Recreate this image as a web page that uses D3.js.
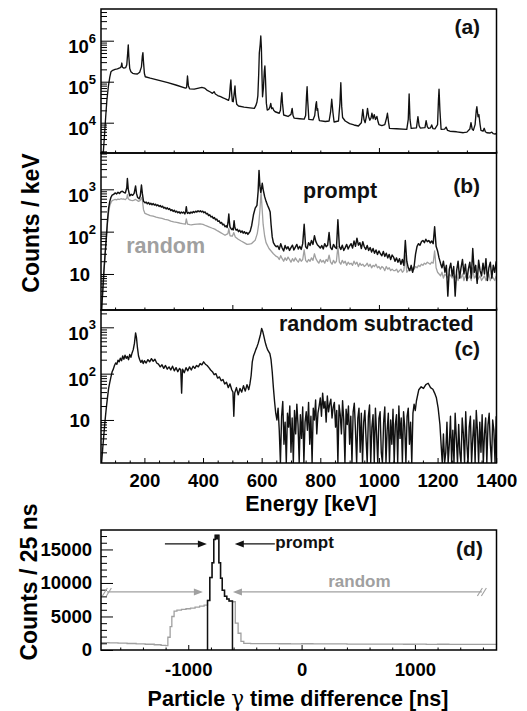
<!DOCTYPE html>
<html>
<head>
<meta charset="utf-8">
<script src="https://cdn.jsdelivr.net/npm/d3@7"></script>
<style>
body { margin: 0; background: #fff; }
text { font-family: "Liberation Sans", Arial, Helvetica, sans-serif; font-weight: bold; }
</style>
</head>
<body>
<div id="container"></div>
<script>
// ---- tick values
const energyTicks = [200, 400, 600, 800, 1000, 1200, 1400]
const timeTicks = [-1000, 0, 1000]
const countTicks = [0, 5000, 10000, 15000]
const decadesA = [4, 5, 6]
const decadesB = [1, 2, 3]
const decadesC = [1, 2, 3]

// ---- (a) singles spectrum [keV, counts/keV]
const spectrumA = [[56,1500],[60,1960],[64,5000],[68,14000],[72,35000],[77,75500],[82,130000],[86,175000],[92,190000],[100,200000],[108,205000],[114,215000],[118,220000],[121,235000],[123,285000],[125,225000],[130,215000],[136,220000],[140,260000],[143,500000],[145,790000],[147,400000],[150,210000],[154,175000],[160,160000],[168,155000],[176,154000],[184,170000],[190,230000],[193,420000],[195,510000],[197,300000],[200,160000],[203,132000],[220,122000],[250,108000],[280,95000],[310,82000],[340,70000],[344,72000],[347,138000],[350,80000],[354,67000],[370,66000],[385,70000],[396,73000],[405,70000],[413,62500],[425,56000],[432,52000],[438,57000],[442,50000],[450,46000],[460,43000],[470,40000],[480,37000],[487,35000],[490,42000],[493,80000],[495,110000],[497,60000],[500,33000],[503,32500],[506,50000],[509,78600],[511,45000],[515,28000],[521,25500],[540,24000],[560,23000],[575,22400],[580,26000],[584,32000],[587,45000],[590,160000],[592,500000],[595,800000],[597,1300000],[599,700000],[601,150000],[603,43000],[606,70000],[609,180000],[611,241000],[613,120000],[616,30000],[619,20400],[624,21000],[628,24000],[631,29700],[634,22000],[638,23000],[641,20000],[646,18500],[660,17000],[664,20000],[667,40000],[669,54000],[671,30000],[675,15400],[690,14200],[700,16000],[704,22400],[707,15000],[711,12900],[730,12500],[745,12200],[750,15000],[753,45000],[755,75500],[757,35000],[761,12000],[775,11700],[781,15000],[785,28000],[787,32500],[789,20000],[791,22000],[794,14000],[797,11200],[817,10700],[830,11000],[835,18000],[839,37300],[843,18000],[847,10400],[862,11000],[867,30000],[870,94600],[873,25000],[876,13400],[885,11000],[900,9500],[915,8800],[930,8300],[940,10000],[945,21200],[949,12000],[953,10000],[958,15000],[961,22400],[965,14000],[969,11500],[973,13000],[976,17000],[980,12500],[984,15700],[988,12000],[993,14200],[997,10500],[1000,9000],[1010,8500],[1020,9000],[1026,13000],[1029,17000],[1033,10000],[1036,7300],[1060,7100],[1095,6900],[1100,12000],[1103,50100],[1106,12000],[1110,7300],[1128,7500],[1133,14000],[1137,8500],[1141,7400],[1157,7600],[1161,11200],[1165,8000],[1169,7300],[1176,7500],[1180,8800],[1184,7200],[1191,7100],[1200,9000],[1203,35000],[1205,65300],[1208,20000],[1212,6900],[1224,7000],[1229,7800],[1234,6500],[1242,6200],[1265,6000],[1288,5700],[1300,5900],[1310,7000],[1314,10000],[1318,7000],[1322,6500],[1328,9000],[1332,20000],[1334,24500],[1338,14000],[1341,15700],[1345,9000],[1348,6500],[1355,6200],[1359,7300],[1363,6000],[1368,5700],[1378,5600],[1385,5900],[1390,5400],[1396,5300],[1400,5400]]

// ---- (b) prompt and random spectra, low part as [keV, counts/keV]
const promptLow = [[54,1.2],[58,4],[62,12],[66,30],[70,70],[74,180],[78,360],[82,520],[86,650],[90,730],[95,760],[100,820],[105,780],[110,850],[115,800],[120,880],[125,900],[130,850],[135,820],[140,1100],[142,1800],[145,1000],[150,700],[155,760],[160,720],[165,800],[170,1200],[173,800],[177,640],[182,600],[186,700],[190,1260],[193,800],[197,520],[202,480],[206,500],[210,455],[214,490],[218,440],[222,470],[226,430],[230,460],[234,425],[238,445],[242,410],[246,430],[250,395],[254,415],[258,380],[262,400],[266,360],[270,375],[274,345],[278,365],[282,335],[286,350],[290,315],[294,330],[298,300],[302,320],[306,290],[310,305],[314,280],[318,295],[322,270],[326,290],[330,275],[334,290],[338,262],[341,300],[343,390],[345,300],[347,270],[351,285],[355,268],[359,290],[363,275],[367,298],[371,282],[375,305],[379,290],[383,312],[387,295],[391,310],[395,292],[399,305],[403,280],[407,292],[411,262],[415,270],[419,240],[423,250],[427,222],[431,230],[435,205],[439,215],[443,190],[447,198],[451,175],[455,180],[459,158],[463,165],[467,145],[471,150],[475,130],[479,138],[482,125],[485,160],[488,260],[490,170],[492,130],[495,120],[498,112],[501,118],[503,110],[506,180],[508,135],[510,118],[513,108],[517,114],[521,100],[525,108],[529,96],[533,104],[537,92],[541,100],[545,90],[549,96],[553,86],[557,94],[560,100],[562,110],[566,140],[572,250],[578,360],[584,420],[588,900],[591,2800],[594,1200],[597,850],[600,1100],[602,1390],[605,1000],[610,680],[615,520],[620,420],[625,350],[629,290],[632,150],[636,75],[640,55],[645,48],[650,44]]
// high part: 5 keV bins from 655 keV
const promptHigh = [46,38,52,41,35,47,39,44,36,42, 48,37,43,50,39,45,38,52,150,44, 40,55,47,62,50,80,58,49,45,41, 47,39,52,44,48,95,42,38,50,43, 40,190,45,38,48,36,42,50,39,46, 52,41,60,45,70,48,55,40,58,44, 38,47,36,42,33,40,31,37,29,35, 30,27,34,26,31,24,29,22,28,25, 20,24,19,23,17,22,16,62,20,14, 12,16,11,15,30,45,52,48,58,62, 55,66,58,62,54,60,52,130,45,35, 24,18,14,20,11,16,3,13,18,9, 15,3,12,20,8,14,22,10,17,7, 13,19,8,40,11,16,6,21,12,9, 18,10,23,7,14,19,8,16,11,20]
const randomLow = [[54,1.2],[58,4],[62,11],[66,28],[70,62],[74,150],[78,290],[82,410],[86,490],[90,540],[95,560],[100,580],[105,565],[110,590],[115,575],[120,600],[125,585],[130,590],[135,570],[140,620],[142,750],[145,600],[150,560],[155,545],[160,540],[165,555],[170,580],[173,560],[180,520],[185,540],[190,640],[193,560],[197,330],[202,270],[210,255],[220,240],[230,232],[240,220],[250,212],[260,205],[270,196],[280,190],[290,178],[300,170],[310,165],[320,160],[330,154],[340,150],[343,200],[347,150],[355,146],[360,145],[370,148],[380,150],[390,152],[400,148],[410,138],[420,130],[430,122],[440,115],[450,104],[460,95],[468,88],[475,82],[485,90],[488,120],[492,80],[500,78],[505,95],[510,75],[520,66],[530,60],[540,55],[550,50],[558,51],[565,52],[572,58],[578,63],[585,90],[590,150],[594,320],[598,900],[601,400],[605,150],[610,80],[615,55],[625,40],[640,30],[650,26]]
const randomHigh = [25,22,27,23,20,24,21,25,22,19, 23,20,24,21,19,23,20,22,37,21, 19,22,20,24,21,30,23,20,18,22, 19,21,18,22,20,28,19,17,21,18, 20,45,19,17,21,18,20,16,19,17, 18,16,20,17,19,15,18,16,17,15, 16,18,15,17,14,16,15,17,14,15, 13,15,14,12,15,13,14,12,13,12, 12,13,11,12,13,11,12,28,11,12, 13,12,14,13,15,14,16,15,17,16, 18,17,19,18,17,19,18,35,14,11, 10,9,11,8,10,9,8,10,9,8, 9,8,10,7,9,8,10,7,9,8, 8,9,7,14,8,9,7,8,9,7, 8,9,7,8,10,7,9,8,7,9]

// ---- (c) random subtracted
const subtractedLow = [[54,0.5],[58,2.5],[62,5],[66,10],[70,18],[74,30],[78,48],[82,65],[86,85],[90,110],[94,125],[98,150],[102,170],[106,160],[110,195],[114,180],[118,215],[122,190],[126,240],[130,205],[134,250],[138,215],[142,235],[146,200],[150,260],[154,225],[158,280],[162,330],[166,450],[170,760],[173,600],[176,380],[180,240],[184,200],[188,175],[192,195],[196,165],[200,190],[206,170],[212,200],[218,180],[224,210],[230,185],[236,205],[242,170],[248,160],[254,140],[260,155],[266,130],[272,150],[278,125],[284,140],[290,120],[296,145],[302,115],[308,135],[314,110],[320,130],[324,120],[327,38],[330,125],[336,105],[342,135],[348,115],[354,140],[360,120],[366,145],[372,130],[378,150],[384,140],[390,165],[396,155],[402,180],[408,160],[414,150],[420,135],[426,120],[432,110],[438,95],[444,100],[450,80],[456,85],[462,70],[468,75],[474,60],[480,65],[486,50],[492,60],[498,45],[502,40],[505,12],[508,38],[514,50],[520,35],[526,48],[532,40],[538,55],[544,42],[550,58],[556,45],[560,60],[564,90],[568,180],[572,240],[576,280],[580,330],[584,380],[588,450],[592,560],[596,700],[600,950],[604,800],[608,620],[612,480],[616,390],[620,330],[624,300],[628,270],[632,200],[636,110],[640,50],[644,25],[648,14],[652,10]]
// 4 keV bins from 656 keV
const subtractedMid = [18,6,0,12,25,3,9,0,14,7,20,2, 11,0,16,5,22,8,0,13,4,19,0,9, 15,6,24,3,12,0,18,10,27,5,14,20, 30,12,38,18,25,9,33,15,22,28,11,19, 24,7,16,0,21,13,5,26,10,0,17,8, 20,3,12,0,15,23,6,0,11,18,2,14, 0,9,16,4,0,12,21,0,7,13,0,18, 5,0,11,15,2,0,9,19,0,6,14,0, 10,3,17,0,8,13,0,20,4,11,0,15, 7,0,12,18,3,9,0,14,22,16]
const subtractedBump = [[1128,26],[1136,45],[1144,52],[1152,48],[1160,58],[1168,62],[1176,50],[1184,46],[1190,38],[1196,30],[1202,18],[1208,8],[1212,3]]
// 4 keV bins from 1216 keV
const subtractedHigh = [0,5,0,2,9,0,3,12,0,6,0,14,4,0,8,2,0,11,5,0,15,3,0,7,12,0,4,10,0,16,6,0,9,2,13,0,5,11,0,8,14,3,0,10,6,0,12]

// ---- (d) particle-gamma time difference, steps [ns, counts/25 ns]
const timeRandomLeft = [[-1770,1090],[-1700,1060],[-1620,1020],[-1540,970],[-1460,920],[-1380,860],[-1300,780],[-1240,700],[-1200,640],[-1180,1900],[-1160,3500],[-1145,5000],[-1125,5800],[-1100,5950],[-1060,6050],[-1020,6150],[-980,6250],[-940,6400],[-900,6550],[-860,6700]]
const timePrompt = [[-830,7400],[-810,10800],[-790,13000],[-775,16500],[-762,17100],[-752,16600],[-744,17100],[-730,13000],[-715,10700],[-700,8900],[-680,8000],[-660,7600],[-640,7300]]
const timePromptEnd = -610
const timeRandomRight = [[-610,7200],[-585,4000],[-560,2500],[-535,1300],[-510,1000],[-450,960],[-400,940],[-300,950],[-200,930],[-100,920],[0,930],[100,910],[200,900],[300,910],[400,890],[500,880],[600,890],[700,870],[800,880],[900,860],[1000,870],[1100,850],[1200,860],[1300,840],[1400,850],[1500,830],[1600,840],[1720,830]]

const grid = (start, step, values) => values.map((v, i) => [start + i * step, v])

const w = 527
const h = 711
const left = 101
const right = 496.5
const gray = '#a0a0a0'

const svg = d3.select('#container').append('svg').attr('width', w).attr('height', h)

const x = d3.scaleLinear([52, 1401], [left, right])

const panels = [
    { name: 'a', top: 9, bottom: 153, yDomain: [10 ** 3.261, 10 ** 6.773], decades: decadesA, fineTicks: false,
      series: [{ data: spectrumA, color: '#111', width: 1.35 }] },
    { name: 'b', top: 153, bottom: 310, yDomain: [10 ** 0.149, 10 ** 3.858], decades: decadesB, fineTicks: false,
      series: [{ data: randomLow.concat(grid(655, 5, randomHigh)), color: gray, width: 1.3 },
               { data: promptLow.concat(grid(655, 5, promptHigh)), color: '#111', width: 1.45 }] },
    { name: 'c', top: 310, bottom: 463, yDomain: [10 ** 0.071, 10 ** 3.374], decades: decadesC, fineTicks: true,
      series: [{ data: subtractedLow.concat(grid(656, 4, subtractedMid), subtractedBump, grid(1216, 4, subtractedHigh)), color: '#111', width: 1.4 }] }
]

const styleAxis = g => {
    g.select('.domain').remove()
    g.attr('font-size', 18.5).attr('font-family', null)
    g.selectAll('line').attr('stroke', '#000')
}

panels.forEach(p => {
    const y = d3.scaleLog(p.yDomain, [p.bottom, p.top])
    p.y = y
    svg.append('clipPath').attr('id', 'clip-' + p.name)
        .append('rect').attr('x', left).attr('y', p.top).attr('width', right - left).attr('height', p.bottom - p.top)

    const line = d3.line().x(d => x(d[0])).y(d => y(Math.max(d[1], p.yDomain[0])))
    p.series.forEach(s => {
        svg.append('path').datum(s.data)
            .attr('clip-path', `url(#clip-${p.name})`)
            .attr('fill', 'none')
            .attr('stroke', s.color)
            .attr('stroke-width', s.width)
            .attr('stroke-linejoin', 'round')
            .attr('d', line)
    })

    // log ticks
    const minor = []
    for (let k = Math.floor(Math.log10(p.yDomain[0])); k <= Math.ceil(Math.log10(p.yDomain[1])); k++) {
        for (let m = 2; m <= 9; m++) {
            const v = m * 10 ** k
            if (v > p.yDomain[0] && v < p.yDomain[1]) minor.push(v)
        }
    }
    svg.append('g').attr('transform', `translate(${left},0)`)
        .call(d3.axisLeft(y).tickValues(minor).tickSize(-6).tickFormat(''))
        .call(styleAxis)
    svg.append('g').attr('transform', `translate(${left},0)`)
        .call(d3.axisLeft(y).tickValues(p.decades.map(k => 10 ** k)).tickSize(-13).tickFormat(''))
        .call(styleAxis)

    p.decades.forEach(k => {
        const t = svg.append('text').attr('text-anchor', 'end').attr('font-size', 18.5)
        if (k === 1) {
            t.attr('x', 90).attr('y', y(10) + 7).text('10')
        } else {
            t.attr('x', 96).attr('y', y(10 ** k) + 12.5)
            t.append('tspan').text('10')
            t.append('tspan').attr('font-size', 13).attr('dy', -10.5).text(k)
        }
    })

    // energy ticks
    const bottomAxis = svg.append('g').attr('transform', `translate(0,${p.bottom})`)
    if (p.fineTicks) {
        bottomAxis.call(d3.axisBottom(x).tickValues(d3.range(100, 1401, 50).filter(v => v % 200)).tickSize(-2.5).tickFormat('')).call(styleAxis)
        svg.append('g').attr('transform', `translate(0,${p.bottom})`)
            .call(d3.axisBottom(x).tickValues(energyTicks).tickSize(-5).tickPadding(11).tickFormat(d => d))
            .call(styleAxis)
    } else {
        bottomAxis.call(d3.axisBottom(x).tickValues(d3.range(100, 1401, 100).filter(v => v % 500)).tickSize(-2.5).tickFormat('')).call(styleAxis)
        svg.append('g').attr('transform', `translate(0,${p.bottom})`)
            .call(d3.axisBottom(x).tickValues([500, 1000]).tickSize(-5).tickFormat(''))
            .call(styleAxis)
    }

    svg.append('rect').attr('x', left).attr('y', p.top).attr('width', right - left).attr('height', p.bottom - p.top)
        .attr('fill', 'none').attr('stroke', '#000').attr('stroke-width', 1.5)
})

const [pa, pb, pc] = panels

// panel labels
const note = (px, py, str, opts = {}) => svg.append('text')
    .attr('x', px).attr('y', py)
    .attr('text-anchor', opts.anchor || 'start')
    .attr('font-size', opts.size || 21.5)
    .attr('fill', opts.color || '#111')
    .text(str)

note(x(1345), pa.y(1.46e6), '(a)', { anchor: 'end', size: 21 })
note(x(1345), pb.y(818), '(b)', { anchor: 'end', size: 21 })
note(x(741), pb.y(622), 'prompt')
note(x(138), pb.y(31), 'random', { color: gray })
note(x(659), pc.y(832), 'random subtracted')
note(x(1345), pc.y(240), '(c)', { anchor: 'end', size: 21 })

svg.append('text').attr('x', 311).attr('y', 511).attr('text-anchor', 'middle').attr('font-size', 21.5).text('Energy [keV]')
svg.append('text').attr('transform', 'translate(39,223) rotate(-90)').attr('text-anchor', 'middle').attr('font-size', 23).text('Counts / keV')

// ---- panel (d)
const dTop = 530
const dBottom = 650
const xt = d3.scaleLinear([-1770, 1720], [left, right])
const yt = d3.scaleLinear([0, 17900], [dBottom, dTop])

const stepLine = d3.line().curve(d3.curveStepAfter).x(d => xt(d[0])).y(d => yt(d[1]))
const randomSteps = timeRandomLeft.concat(timePrompt, timeRandomRight)
svg.append('path').datum(randomSteps)
    .attr('fill', 'none').attr('stroke', gray).attr('stroke-width', 1.3).attr('d', stepLine)
const promptSteps = [[timePrompt[0][0], 0]].concat(timePrompt, [[timePromptEnd, 0]])
svg.append('path').datum(promptSteps)
    .attr('fill', 'none').attr('stroke', '#111').attr('stroke-width', 1.5).attr('d', stepLine)

svg.append('g').attr('transform', `translate(${left},0)`)
    .call(d3.axisLeft(yt).tickValues(d3.range(1000, 17001, 1000).filter(v => v % 5000)).tickSize(-6).tickFormat(''))
    .call(styleAxis)
svg.append('g').attr('transform', `translate(${left},0)`)
    .call(d3.axisLeft(yt).tickValues(countTicks).tickSize(-12).tickPadding(9).tickFormat(d => d))
    .call(styleAxis)
svg.append('g').attr('transform', `translate(0,${dBottom})`)
    .call(d3.axisBottom(xt).tickValues(d3.range(-1600, 1601, 200).filter(v => v % 1000)).tickSize(-2.5).tickFormat(''))
    .call(styleAxis)
svg.append('g').attr('transform', `translate(0,${dBottom})`)
    .call(d3.axisBottom(xt).tickValues(timeTicks).tickSize(-5).tickPadding(13).tickFormat(d => String(d)))
    .call(styleAxis)

svg.append('rect').attr('x', left).attr('y', dTop).attr('width', right - left).attr('height', dBottom - dTop)
    .attr('fill', 'none').attr('stroke', '#000').attr('stroke-width', 1.5)

// arrows
const arrow = (t1, t2, v, color) => {
    const x1 = xt(t1), x2 = xt(t2), yy = yt(v)
    const dir = Math.sign(x2 - x1)
    svg.append('line').attr('x1', x1).attr('x2', x2 - dir * 6).attr('y1', yy).attr('y2', yy)
        .attr('stroke', color).attr('stroke-width', 1.3)
    svg.append('path').attr('d', `M${x2},${yy}L${x2 - dir * 9},${yy - 3.5}L${x2 - dir * 9},${yy + 3.5}Z`).attr('fill', color)
}
const breakMark = (t, v) => {
    const cx = xt(t), cy = yt(v)
    ;[-2, 2].forEach(o => svg.append('line')
        .attr('x1', cx + o - 2.5).attr('y1', cy + 4).attr('x2', cx + o + 2.5).attr('y2', cy - 4)
        .attr('stroke', gray).attr('stroke-width', 1.1))
}
arrow(-1206, -836, 15820, '#111')
arrow(-236, -589, 15820, '#111')
arrow(-1718, -871, 8660, gray)
arrow(1591, -606, 8660, gray)
breakMark(-1718, 8660)
breakMark(1591, 8660)

note(xt(-232), yt(15250), 'prompt', { size: 17 })
note(xt(510), yt(9400), 'random', { size: 17, anchor: 'middle', color: gray })
note(xt(1600), yt(14030), '(d)', { anchor: 'end', size: 21 })

svg.append('text').attr('transform', 'translate(37,582) rotate(-90)').attr('text-anchor', 'middle').attr('font-size', 23).text('Counts / 25 ns')
const xTitle = svg.append('text').attr('x', 298).attr('y', 706).attr('text-anchor', 'middle').attr('font-size', 21.5)
xTitle.append('tspan').text('Particle ')
xTitle.append('tspan').attr('font-family', '"DejaVu Serif", "Liberation Serif", serif').attr('font-weight', 'normal').text('γ')
xTitle.append('tspan').text(' time difference [ns]')
</script>
</body>
</html>
